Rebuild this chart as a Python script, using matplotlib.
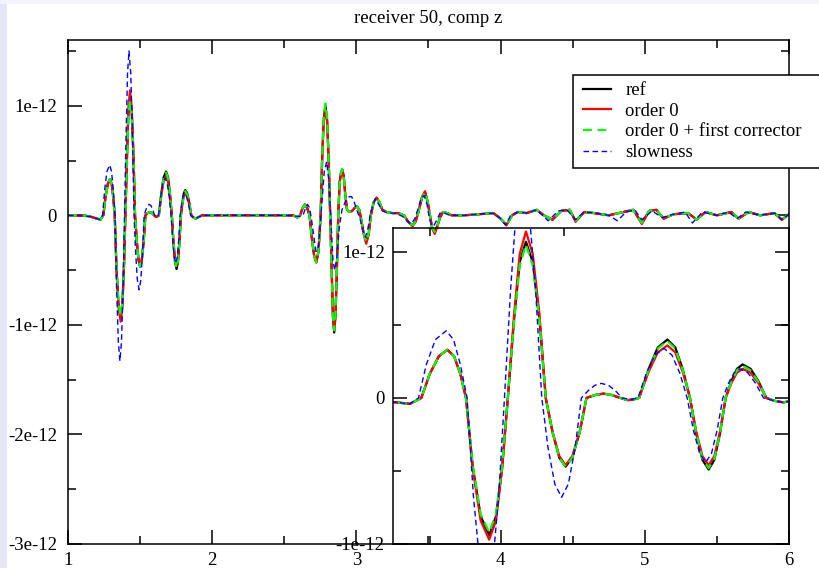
import matplotlib
matplotlib.use("Agg")
import matplotlib.pyplot as plt
from matplotlib.patches import Rectangle
from matplotlib.ticker import MultipleLocator, FixedLocator, NullLocator

plt.rcParams['font.family'] = ['Liberation Serif', 'DejaVu Serif']

title = "receiver 50, comp z"
labels = ["ref", "order 0", "order 0 + first corrector", "slowness"]
xticks = [1, 2, 3, 4, 5, 6]
yticks_main = [-3e-12, -2e-12, -1e-12, 0, 1e-12]
yticks_inset = [-1e-12, 0, 1e-12]
ytick_labels_main = ["-3e-12", "-2e-12", "-1e-12", "0", "1e-12"]
ytick_labels_inset = ["-1e-12", "0", "1e-12"]
SCALE = 1e-12

# shared time samples for ref / order 0 / order 0 + first corrector
t = [1.00, 1.10, 1.15, 1.20, 1.225, 1.245, 1.26, 1.276, 1.291, 1.303, 1.314, 1.324,
     1.336, 1.350, 1.365, 1.377, 1.388, 1.398,
     1.409, 1.419, 1.430, 1.442, 1.454, 1.465,
     1.477, 1.489, 1.500, 1.512, 1.525, 1.537,
     1.552, 1.567, 1.582, 1.597, 1.61, 1.62, 1.63,
     1.647, 1.663, 1.68, 1.694, 1.707, 1.72,
     1.731, 1.742, 1.753, 1.763, 1.773, 1.783,
     1.793, 1.803, 1.813, 1.827, 1.841, 1.855,
     1.87, 1.885, 1.90, 1.93, 2.0,
     2.5, 2.56, 2.59, 2.61, 2.625, 2.643, 2.66, 2.675, 2.69, 2.707, 2.722, 2.737, 2.752,
     2.762, 2.773, 2.785, 2.797, 2.808, 2.818, 2.828, 2.837, 2.846, 2.855, 2.864, 2.874,
     2.884, 2.893, 2.902, 2.912, 2.922, 2.935, 2.95, 2.97, 2.99, 3.005, 3.02, 3.035,
     3.05, 3.068, 3.085, 3.10, 3.12, 3.14, 3.16, 3.18, 3.21, 3.25, 3.29, 3.33, 3.36,
     3.39, 3.41, 3.43, 3.455, 3.476, 3.495, 3.51, 3.525, 3.543, 3.56, 3.58, 3.60, 3.63,
     3.66, 3.75, 3.85, 3.95, 4.0, 4.04, 4.08, 4.12, 4.18, 4.25, 4.30, 4.36, 4.42, 4.48,
     4.52, 4.58, 4.65, 4.75, 4.85, 4.92, 4.98, 5.03, 5.08, 5.13, 5.20, 5.30, 5.36, 5.42,
     5.50, 5.60, 5.65, 5.72, 5.80, 5.90, 5.95, 6.0]

ref = [0, 0, -0.01, -0.03, -0.04, 0.0, 0.165, 0.286, 0.33, 0.286, 0.165, 0.0,
       -0.47, -0.81, -0.94, -0.81, -0.47, 0.0,
       0.535, 0.93, 1.07, 0.93, 0.535, 0.0,
       -0.235, -0.41, -0.47, -0.41, -0.235, 0.0,
       0.02, 0.03, 0.02, 0.0, -0.015, -0.01, 0.0,
       0.2, 0.346, 0.40, 0.346, 0.2, 0.0,
       -0.245, -0.424, -0.49, -0.424, -0.245, 0.0,
       0.115, 0.2, 0.23, 0.2, 0.115, 0.0,
       -0.02, -0.03, -0.02, 0.0, 0.0,
       0.0, 0.0, -0.02, 0.0, 0.06, 0.10, 0.06, 0.0, -0.2, -0.37, -0.43, -0.33, 0.0,
       0.5, 0.87, 1.0, 0.87, 0.5, 0.0, -0.53, -0.92, -1.07, -0.92, -0.53, 0.0,
       0.3, 0.39, 0.42, 0.36, 0.2, 0.05, 0.03, 0.04, 0.07, 0.08, 0.05, -0.05,
       -0.16, -0.24, -0.17, 0.0, 0.12, 0.16, 0.12, 0.05, 0.03, 0.02, 0.02, 0.0, -0.06,
       -0.09, -0.06, 0.03, 0.16, 0.21, 0.12, 0.0, -0.11, -0.15, -0.1, -0.02, 0.03, 0.02,
       0.0, 0.0, 0.01, 0.02, -0.03, -0.09, 0.0, 0.03, 0.02, 0.05, 0.0, -0.04, 0.04, 0.05,
       -0.05, 0.03, 0.02, 0.0, 0.03, 0.05, -0.07, 0.04, 0.05, -0.03, 0.01, 0.02, -0.04, 0.03,
       0.0, 0.03, -0.03, 0.03, 0.0, 0.02, -0.04, 0.01]

order0 = [0, 0, -0.01, -0.03, -0.04, 0.0, 0.165, 0.286, 0.33, 0.286, 0.165, 0.0,
          -0.485, -0.84, -0.97, -0.84, -0.485, 0.0,
          0.57, 0.987, 1.14, 0.987, 0.57, 0.0,
          -0.23, -0.398, -0.46, -0.398, -0.23, 0.0,
          0.02, 0.03, 0.02, 0.0, -0.015, -0.01, 0.0,
          0.18, 0.312, 0.36, 0.312, 0.18, 0.0,
          -0.23, -0.398, -0.46, -0.398, -0.23, 0.0,
          0.10, 0.173, 0.20, 0.173, 0.10, 0.0,
          -0.02, -0.03, -0.02, 0.0, 0.0,
          0.0, 0.0, -0.02, 0.0, 0.06, 0.10, 0.06, 0.0, -0.2, -0.37, -0.43, -0.33, 0.0,
          0.49, 0.85, 0.97, 0.85, 0.49, 0.0, -0.52, -0.9, -1.05, -0.9, -0.52, 0.0,
          0.3, 0.38, 0.41, 0.35, 0.2, 0.05, 0.03, 0.04, 0.07, 0.08, 0.05, -0.05,
          -0.17, -0.26, -0.18, 0.0, 0.12, 0.16, 0.12, 0.05, 0.03, 0.02, 0.02, 0.0, -0.06,
          -0.10, -0.06, 0.03, 0.17, 0.22, 0.12, 0.0, -0.12, -0.17, -0.11, -0.02, 0.03, 0.02,
          0.0, 0.0, 0.01, 0.02, -0.03, -0.09, 0.0, 0.03, 0.02, 0.05, 0.0, -0.04, 0.04, 0.05,
          -0.06, 0.03, 0.02, 0.0, 0.03, 0.05, -0.08, 0.04, 0.05, -0.03, 0.01, 0.02, -0.04, 0.03,
          0.0, 0.03, -0.03, 0.03, 0.0, 0.02, -0.04, 0.01]

corrector = [0, 0, -0.01, -0.03, -0.04, 0.0, 0.165, 0.286, 0.33, 0.286, 0.165, 0.0,
             -0.46, -0.797, -0.92, -0.797, -0.46, 0.0,
             0.525, 0.909, 1.05, 0.909, 0.525, 0.0,
             -0.235, -0.41, -0.47, -0.41, -0.235, 0.0,
             0.02, 0.03, 0.02, 0.0, -0.015, -0.01, 0.0,
             0.195, 0.338, 0.39, 0.338, 0.195, 0.0,
             -0.24, -0.416, -0.48, -0.416, -0.24, 0.0,
             0.11, 0.19, 0.22, 0.19, 0.11, 0.0,
             -0.02, -0.03, -0.02, 0.0, 0.0,
             0.0, 0.0, -0.02, 0.0, 0.06, 0.10, 0.06, 0.0, -0.2, -0.37, -0.43, -0.33, 0.0,
             0.51, 0.89, 1.02, 0.89, 0.51, 0.0, -0.52, -0.91, -1.05, -0.91, -0.52, 0.0,
             0.3, 0.39, 0.42, 0.36, 0.2, 0.05, 0.03, 0.04, 0.07, 0.08, 0.05, -0.05,
             -0.16, -0.24, -0.17, 0.0, 0.12, 0.16, 0.12, 0.05, 0.03, 0.02, 0.02, 0.0, -0.06,
             -0.09, -0.06, 0.03, 0.16, 0.21, 0.12, 0.0, -0.11, -0.15, -0.1, -0.02, 0.03, 0.02,
             0.0, 0.0, 0.01, 0.02, -0.03, -0.09, 0.0, 0.03, 0.02, 0.05, 0.0, -0.04, 0.04, 0.05,
             -0.05, 0.03, 0.02, 0.0, 0.03, 0.05, -0.07, 0.04, 0.05, -0.03, 0.01, 0.02, -0.04, 0.03,
             0.0, 0.03, -0.03, 0.03, 0.0, 0.02, -0.04, 0.01]

# slowness has its own sample times
t_slow = [1.00, 1.15, 1.20, 1.225, 1.24, 1.254, 1.27, 1.289, 1.302, 1.314, 1.326,
          1.337, 1.349, 1.36, 1.371, 1.382, 1.392,
          1.403, 1.413, 1.423, 1.435, 1.447, 1.458,
          1.469, 1.481, 1.493, 1.505, 1.517, 1.528,
          1.54, 1.552, 1.563, 1.576, 1.588, 1.60, 1.615, 1.628,
          1.643, 1.658, 1.674, 1.688, 1.702, 1.715,
          1.726, 1.737, 1.748, 1.758, 1.768, 1.778,
          1.788, 1.798, 1.808, 1.822, 1.836, 1.85,
          1.87, 1.885, 1.90, 1.93, 2.0,
          2.5, 2.6, 2.63, 2.645, 2.66, 2.675, 2.69, 2.705, 2.72, 2.735, 2.745, 2.76, 2.777,
          2.794, 2.81, 2.825, 2.838, 2.85, 2.865, 2.882, 2.90, 2.925, 2.95, 2.967, 2.985,
          3.005, 3.025, 3.045, 3.063, 3.08, 3.10, 3.13, 3.155, 3.18, 3.22, 3.27, 3.32, 3.35,
          3.38, 3.405, 3.43, 3.45, 3.47, 3.49, 3.505, 3.52, 3.535, 3.555, 3.58, 3.61, 3.65,
          3.75, 3.85, 3.95, 4.0, 4.035, 4.07, 4.12, 4.18, 4.25, 4.29, 4.33, 4.40, 4.46,
          4.52, 4.58, 4.65, 4.75, 4.81, 4.87, 4.93, 4.98, 5.05, 5.12, 5.20, 5.28, 5.33, 5.40,
          5.50, 5.58, 5.64, 5.70, 5.80, 5.90, 5.95, 6.0]

slowness = [0, -0.01, -0.03, -0.04, 0.0, 0.23, 0.40, 0.46, 0.40, 0.23, 0.0,
            -0.665, -1.15, -1.33, -1.15, -0.665, 0.0,
            0.75, 1.3, 1.5, 1.3, 0.75, 0.0,
            -0.34, -0.589, -0.68, -0.589, -0.34, 0.0,
            0.05, 0.087, 0.1, 0.087, 0.05, 0.0, -0.01, 0.0,
            0.17, 0.294, 0.34, 0.294, 0.17, 0.0,
            -0.22, -0.38, -0.44, -0.38, -0.22, 0.0,
            0.1, 0.173, 0.2, 0.173, 0.1, 0.0,
            -0.02, -0.03, -0.02, 0.0, 0.0,
            0.0, -0.01, 0.0, 0.06, 0.1, 0.07, -0.05, -0.2, -0.33, -0.3, -0.15, 0.1, 0.4,
            0.49, 0.3, -0.1, -0.42, -0.5, -0.38, -0.1, 0.05, 0.13, 0.17, 0.17, 0.12,
            0.04, -0.03, -0.14, -0.2, -0.12, 0.03, 0.15, 0.1, 0.04, 0.02, 0.02, -0.01, -0.05,
            -0.08, -0.03, 0.07, 0.16, 0.18, 0.1, -0.02, -0.09, -0.1, -0.05, 0.02, 0.02, 0.0,
            0.0, 0.01, 0.02, -0.03, -0.09, 0.0, 0.03, 0.02, 0.05, 0.0, -0.05, 0.04, 0.05,
            -0.04, 0.03, 0.02, 0.0, -0.05, 0.03, 0.05, -0.04, 0.04, -0.02, 0.01, 0.03, -0.07, 0.03,
            0.0, 0.03, -0.03, 0.03, 0.0, 0.02, -0.04, 0.01]

W, H = 820, 568
fig = plt.figure(figsize=(W / 100, H / 100), dpi=100, facecolor='white')
# light window border strips
fig.patches.append(Rectangle((0, 0), 7 / W, 1, transform=fig.transFigure,
                             facecolor='#e6e6f9', edgecolor='none', zorder=0))
fig.patches.append(Rectangle((0, 1 - 4 / H), 1, 4 / H, transform=fig.transFigure,
                             facecolor='#f3f3fd', edgecolor='none', zorder=0))

def px_rect(l, r, top, bot):
    return [l / W, 1 - bot / H, (r - l) / W, (bot - top) / H]

ax = fig.add_axes(px_rect(68, 789, 40, 544))
axi = fig.add_axes(px_rect(393, 789, 228, 544))
axi.patch.set_alpha(0)

FS = 13.5
styles = [
    dict(color='black', lw=1.6, ls='-'),
    dict(color='#ff0000', lw=1.6, ls='-'),
    dict(color='#00ff00', lw=1.6, ls=(0, (4, 2.5))),
    dict(color='#0000ff', lw=1.0, ls=(0, (4, 2.5))),
]
series = [(t, ref), (t, order0), (t, corrector), (t_slow, slowness)]

handles = []
for a in (ax, axi):
    for (xs, ys), st, lab in zip(series, styles, labels):
        h, = a.plot(xs, [v * SCALE for v in ys], label=lab, **st)
        if a is ax:
            handles.append(h)
    for s in a.spines.values():
        s.set_linewidth(1.1)
        s.set_color('black')

ax.set_xlim(1, 6)
ax.set_ylim(-3e-12, 1.6e-12)
ax.xaxis.set_major_locator(FixedLocator(xticks))
ax.xaxis.set_minor_locator(MultipleLocator(0.5))
ax.yaxis.set_major_locator(FixedLocator(yticks_main))
ax.yaxis.set_minor_locator(MultipleLocator(0.5e-12))
ax.set_xticklabels([str(v) for v in xticks])
ax.set_yticklabels(ytick_labels_main)
ax.tick_params(which='both', direction='in', top=True, right=True, width=1.1)
ax.tick_params(which='major', length=10, labelsize=FS)
ax.tick_params(which='minor', length=6)
ax.tick_params(axis='x', pad=6)
ax.tick_params(axis='y', pad=8)
ax.set_title(title, fontsize=FS, pad=12)

axi.set_xlim(1.195, 1.895)
axi.set_ylim(-1e-12, 1.164e-12)
axi.xaxis.set_major_locator(NullLocator())
axi.xaxis.set_minor_locator(FixedLocator([1.26, 1.497]))
axi.yaxis.set_major_locator(FixedLocator(yticks_inset))
axi.yaxis.set_minor_locator(FixedLocator([-0.5e-12, 0.5e-12]))
axi.set_yticklabels(ytick_labels_inset)
axi.tick_params(which='both', direction='in', right=True, top=True, width=1.1)
axi.tick_params(which='major', length=10, labelsize=FS, pad=6)
axi.tick_params(which='minor', length=6)

leg = fig.legend(handles=handles, loc='upper left',
                 bbox_to_anchor=(583 / W, 1 - 82 / H), frameon=False,
                 fontsize=FS, handlelength=1.5, handletextpad=0.75,
                 labelspacing=0.19, borderaxespad=0, borderpad=0)
fig.patches.append(Rectangle((573 / W, 1 - 168 / H), 260 / W, 93 / H,
                             transform=fig.transFigure, facecolor='white',
                             edgecolor='black', lw=1.1, zorder=5))
leg.set_zorder(6)

fig.savefig('out.png', dpi=100)
